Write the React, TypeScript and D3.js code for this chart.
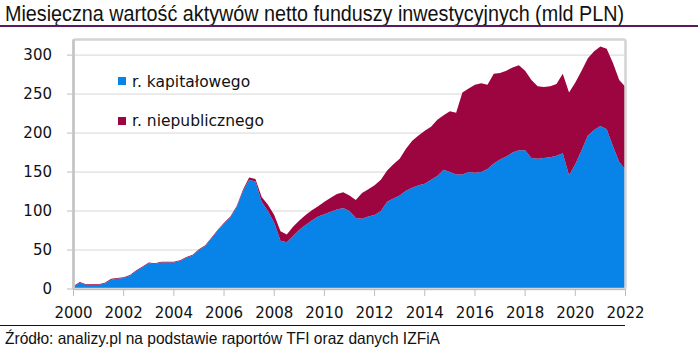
import React from "react";
import * as d3 from "d3";

// quarterly readings, 2000 Q1 .. 2022 Q1 (mld PLN)
const kapitalowe = [
  3, 8, 5, 5, 5, 7, 12, 13, 14, 17, 23, 28, 33, 32, 34, 34, 34, 36, 40, 43,
  50, 55, 65, 75, 84, 92, 105, 125, 140, 138, 112, 100, 85, 62, 60, 68, 76, 82,
  88, 93, 96, 99, 102, 104, 100, 91, 90, 93, 95, 100, 112, 116, 120, 126, 130,
  133, 135, 140, 145, 153, 150, 147, 147, 150, 149, 150, 154, 161, 166, 170,
  175, 178, 178, 168, 167, 168, 169, 171, 174, 146, 160, 178, 197, 204, 209,
  205, 183, 163, 153,
];
const niepubliczne = [
  1, 1, 1, 1, 1, 1, 1, 1, 1, 1, 1, 1, 1, 1, 1, 1, 1, 1, 1, 1, 1, 1, 1, 1, 1, 1,
  1, 2, 3, 3, 6, 8, 10, 12, 10, 12, 12, 13, 13, 13, 16, 18, 20, 20, 20, 23, 33,
  35, 38, 40, 40, 44, 47, 54, 60, 64, 68, 68, 72, 70, 78, 79, 105, 107, 113,
  114, 108, 115, 111, 110, 109, 109, 102, 100, 93, 91, 91, 92, 102, 106, 105,
  102, 99, 101, 102, 103, 107, 105, 106,
];
const yearTicks = d3.range(2000, 2023, 2);
const valueTicks = [0, 50, 100, 150, 200, 250, 300];
const seriesNames = ["r. kapitałowego", "r. niepublicznego"];
const colors = ["#0883e8", "#9d0540"];

const W = 698;
const H = 351;
const left = 73.5;
const right = 625.5;
const bottom = 289;
const top = 39.5;

export default function App() {
  const rows = kapitalowe.map((k, i) => ({
    t: 2000 + i / 4,
    kap: k,
    nie: niepubliczne[i],
  }));
  const stack = d3.stack<any>().keys(["kap", "nie"]);
  const layers = stack(rows);

  const x = d3.scaleLinear().domain([2000, 2022]).range([left, right]);
  const y = d3.scaleLinear().domain([0, 320]).range([bottom, top]);

  const area = d3
    .area<any>()
    .x((d) => x(d.data.t))
    .y0((d) => y(d[0]))
    .y1((d) => y(d[1]))
    .curve(d3.curveLinear);

  return (
    <svg width={W} height={H} style={{ position: "absolute", left: 0, top: 0 }}>
      <rect width={W} height={H} fill="#fff" />
      <text
        x={5}
        y={21}
        fontFamily="'Liberation Sans Narrow', 'Liberation Sans', Arial"
        fontSize={22}
        textLength={619}
        lengthAdjust="spacingAndGlyphs"
        fill="#111"
      >
        Miesięczna wartość aktywów netto funduszy inwestycyjnych (mld PLN)
      </text>
      <line x1={0} x2={W} y1={26} y2={26} stroke="#5a1a5e" strokeWidth={2} />

      {valueTicks.map((v) => (
        <g key={v}>
          <line x1={left} x2={right} y1={y(v)} y2={y(v)} stroke="#d6d6d6" strokeWidth={1} />
          <line x1={67} x2={left} y1={y(v)} y2={y(v)} stroke="#bdbdbd" strokeWidth={1} />
          <text
            x={52}
            y={y(v)}
            dy="0.36em"
            textAnchor="end"
            fontFamily="'DejaVu Sans', Verdana, sans-serif"
            fontSize={15}
            fill="#111"
          >
            {v}
          </text>
        </g>
      ))}

      {layers.map((layer, i) => (
        <path key={i} d={area(layer) || ""} fill={colors[i]} />
      ))}

      <rect
        x={left}
        y={top}
        width={right - left}
        height={bottom - top}
        fill="none"
        stroke="#d4d4d4"
        strokeWidth={2.5}
        rx={2}
      />
      <line x1={left} x2={left} y1={top} y2={bottom} stroke="#c4c4c4" strokeWidth={2.5} />
      <line x1={left} x2={right} y1={bottom + 0.5} y2={bottom + 0.5} stroke="#bdbdbd" strokeWidth={1} />

      {yearTicks.map((t) => (
        <g key={t}>
          <line x1={x(t)} x2={x(t)} y1={bottom} y2={296} stroke="#bdbdbd" strokeWidth={1} />
          <text
            x={x(t)}
            y={318}
            textAnchor="middle"
            fontFamily="'DejaVu Sans', Verdana, sans-serif"
            fontSize={15}
            fill="#111"
          >
            {t}
          </text>
        </g>
      ))}

      {seriesNames.map((name, i) => (
        <g key={name}>
          <rect x={118} y={77 + i * 40} width={8} height={8} fill={colors[i]} />
          <text
            x={132}
            y={86.5 + i * 39}
            fontFamily="'DejaVu Sans', Verdana, sans-serif"
            fontSize={15.5}
            fill="#111"
          >
            {name}
          </text>
        </g>
      ))}

      <line x1={0} x2={625} y1={325.5} y2={325.5} stroke="#111" strokeWidth={1} />
      <text
        x={5}
        y={344}
        fontFamily="'Liberation Sans Narrow', 'Liberation Sans', Arial"
        fontSize={16.5}
        textLength={435}
        lengthAdjust="spacingAndGlyphs"
        fill="#111"
      >
        Źródło: analizy.pl na podstawie raportów TFI oraz danych IZFiA
      </text>
    </svg>
  );
}
